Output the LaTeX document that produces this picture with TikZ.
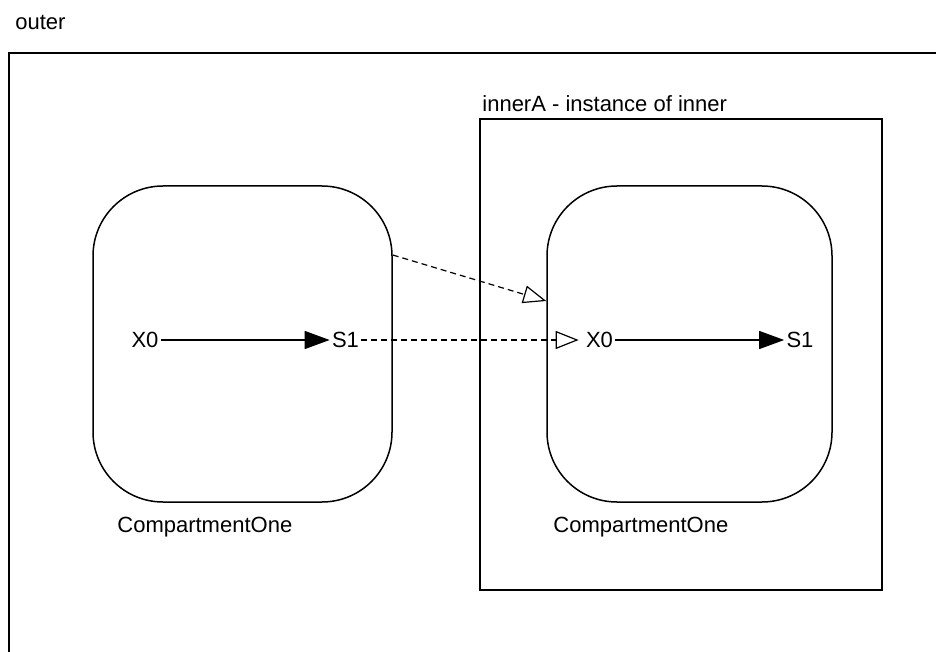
\documentclass[tikz,border=0pt]{standalone}
\usepackage{fontspec}
\setmainfont{Liberation Sans}
\usetikzlibrary{arrows.meta}

\tikzset{
  comp/.style={draw, line width=0.75pt, rounded corners=35pt, minimum height=158pt},
  species/.style={inner xsep=1pt, inner ysep=0pt, font=\fontsize{11}{13}\selectfont},
  lbl/.style={inner sep=0pt, anchor=base west, font=\fontsize{11}{13}\selectfont},
  reaction/.style={line width=0.7pt, -{Triangle[length=12.5pt,width=9pt]}},
  port/.style={line width=0.6pt, dash pattern=on 3pt off 2pt, shorten >=2.5pt,
    -{Triangle[open,length=11.5pt,width=9pt,line width=0.6pt]}}
}

\begin{document}
\begin{tikzpicture}[x=0.5pt, y=-0.5pt]
\useasboundingbox (0,0) rectangle (936,652);
\clip (0,0) rectangle (936,652);
% model boxes
\draw[line width=0.9pt] (9,53) rectangle (960,680);
\node[lbl] (outer) at (15,30) {outer};
\draw[line width=0.75pt] (480,119) rectangle (882,590);
\node[lbl] (innerA) at (482,112) {innerA - instance of inner};
%------------------
\node[comp, minimum width=149.5pt] (compL) at (242.5,344) {};
\node[lbl] (compLname) at (117,532) {CompartmentOne};
\node[species] (xL) at (145,340) {X0};
\node[species] (sL) at (345.5,340) {S1};
\draw[reaction] (xL.east) -- (sL.west);
%------------------
\node[comp, minimum width=142.5pt] (compR) at (689.5,344) {};
\node[lbl] (compRname) at (553,532) {CompartmentOne};
\node[species] (xR) at (599.5,340) {X0};
\node[species] (sR) at (800,340) {S1};
\draw[reaction] (xR.east) -- (sR.west);
%------------------
\draw[port, shorten >=0pt] ([yshift=44.5pt]compL.east) -- ([yshift=21.5pt]compR.west);
\draw[port] (sL.east) -- (xR.west);
\end{tikzpicture}
\end{document}
